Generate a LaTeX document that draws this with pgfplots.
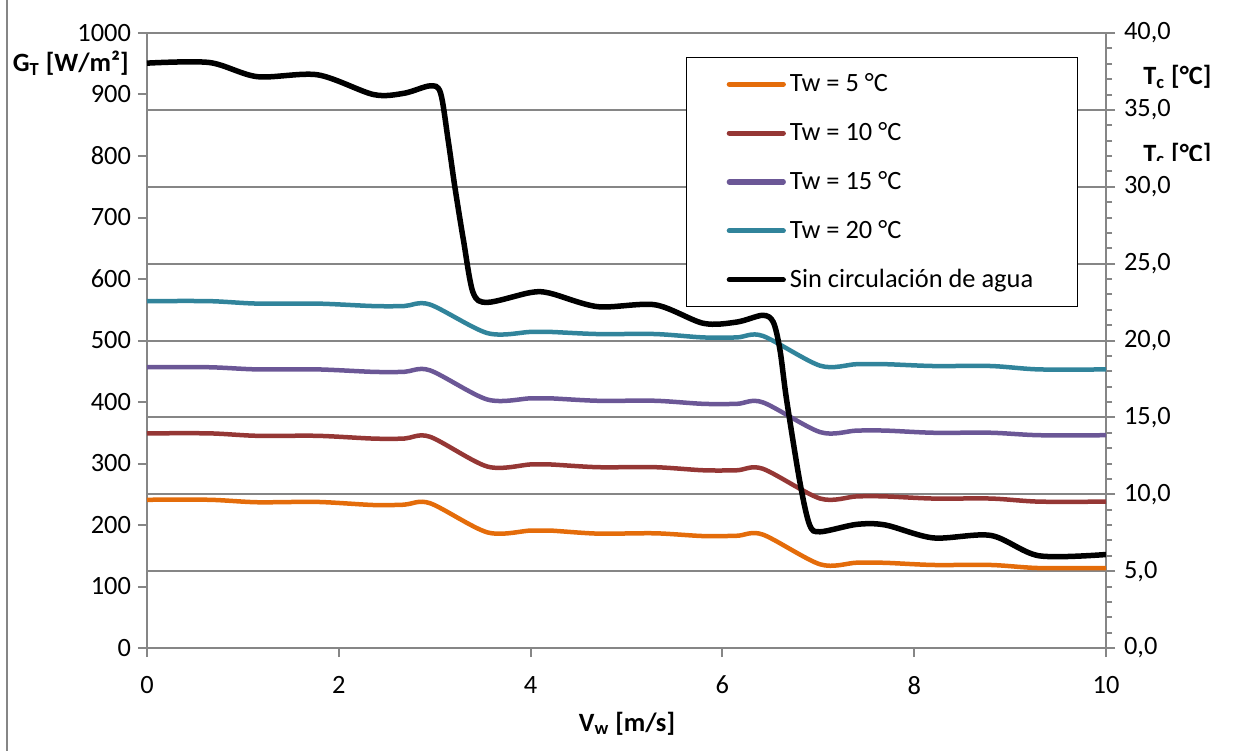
\documentclass[border=0pt]{standalone}
\usepackage{fontspec}
\setmainfont{Carlito}
\usepackage{pgfplots}
\pgfplotsset{compat=1.18}

\definecolor{cOrange}{HTML}{E46C0A}
\definecolor{cRed}{HTML}{953735}
\definecolor{cPurple}{HTML}{6B5796}
\definecolor{cTeal}{HTML}{31849B}
\definecolor{axgray}{HTML}{868686}

\newcommand{\fs}{\fontsize{13.2}{15.5}\selectfont}

\begin{document}
\begin{tikzpicture}
\begin{scope}[x=0.5pt,y=-0.5pt,shift={(-73.5pt,324pt)}]
  \path[use as bounding box] (0,0) rectangle (1233,751);
  \draw[axgray, line width=0.75pt] (7,0) -- (7,751);
\end{scope}

% right axis (grid + temperature scale)
\begin{axis}[
  at={(0,0)}, anchor=south west,
  scale only axis, width=479.5pt, height=307.5pt,
  xmin=0, xmax=10, ymin=0, ymax=40,
  hide x axis,
  axis y line*=right,
  y axis line style={draw=axgray, line width=1pt, -},
  ytick={0,5,...,40},
  yticklabels={{0,0},{5,0},{10,0},{15,0},{20,0},{25,0},{30,0},{35,0},{40,0}},
  minor ytick={1,2,3,4,6,7,8,9,11,12,13,14,16,17,18,19,21,22,23,24,26,27,28,29,31,32,33,34,36,37,38,39},
  ymajorgrids,
  grid style={draw=axgray, line width=1pt},
  tick align=outside,
  major tick length=4.5pt, minor tick length=3pt,
  ytick style={draw=axgray, line width=1pt},
  yticklabel style={font=\fs, text=black, xshift=1pt},
]
\end{axis}

% left axis with data
\begin{axis}[
  at={(0,0)}, anchor=south west,
  scale only axis, width=479.5pt, height=307.5pt,
  xmin=0, xmax=10, ymin=0, ymax=1000,
  axis x line*=bottom, axis y line*=left,
  axis line style={draw=axgray, line width=1pt, -},
  xtick={0,2,4,6,8,10}, ytick={0,100,...,1000},
  tick align=outside,
  major tick length=4.5pt,
  tick style={draw=axgray, line width=1pt},
  ticklabel style={font=\fs, text=black},
  xticklabel style={yshift=-6pt},
  /pgf/number format/assume math mode=true,
  /pgf/number format/1000 sep={},
  legend cell align=left,
  legend style={at={(0.562,0.961)}, anchor=north west, draw=black,
    line width=0.75pt, inner xsep=20pt, inner ysep=6pt, row sep=9.9pt, font=\fs},
  legend image code/.code={\draw[#1, line cap=round, line width=2.6pt] (0pt,0pt) -- (27pt,0pt);},
]
\addplot[cOrange, line width=2.25pt, smooth] coordinates {
(0,241) (0.65,241) (1.15,237) (1.78,237.5) (2.36,232.5) (2.68,233) (2.95,235.5)
(3.55,188) (4.0,191) (4.2,191) (4.7,186) (5.3,186.5) (5.8,182) (6.15,182.5) (6.42,184.5)
(7.02,136) (7.4,138.7) (7.7,138.5) (8.2,135) (8.8,135) (9.3,130) (10,130)};
\addlegendentry{Tw = 5 °C}
\addplot[cRed, line width=2.25pt, smooth] coordinates {
(0,349) (0.65,349) (1.15,345) (1.78,345) (2.36,340.5) (2.68,340.5) (2.95,343.5)
(3.55,295) (4.0,298.5) (4.2,298.5) (4.7,294) (5.3,294) (5.8,289) (6.15,289) (6.42,291.5)
(7.02,243) (7.4,246.5) (7.7,246.5) (8.2,243) (8.8,243) (9.3,238) (10,238)};
\addlegendentry{Tw = 10 °C}
\addplot[cPurple, line width=2.25pt, smooth] coordinates {
(0,456.5) (0.65,456.5) (1.15,453) (1.78,453) (2.36,449) (2.68,449) (2.95,451.5)
(3.55,404) (4.0,406) (4.2,406) (4.7,402) (5.3,402) (5.8,397) (6.15,397) (6.42,399.5)
(7.02,351) (7.4,353.5) (7.7,353.5) (8.2,350) (8.8,350) (9.3,346) (10,346)};
\addlegendentry{Tw = 15 °C}
\addplot[cTeal, line width=2.25pt, smooth] coordinates {
(0,564) (0.65,564) (1.15,560) (1.78,560) (2.36,556) (2.68,556) (2.95,558.5)
(3.55,512) (4.0,514) (4.2,514) (4.7,510.5) (5.3,510.5) (5.8,505) (6.15,505) (6.42,507.5)
(7.02,459) (7.4,461.5) (7.7,461.5) (8.2,458.5) (8.8,458.5) (9.3,453) (10,453)};
\addlegendentry{Tw = 20 °C}
\addplot[black, line width=2.75pt, smooth] coordinates {
(0,951) (0.65,952) (1.15,929) (1.78,932) (2.36,900) (2.68,902) (2.95,914)
(3.06,903) (3.14,826) (3.21,750) (3.30,663) (3.40,578) (3.55,562)
(4.0,578) (4.2,577) (4.7,555) (5.3,558) (5.8,528) (6.15,530) (6.42,541)
(6.53,530) (6.60,485) (6.67,403) (6.81,268) (6.91,200) (7.02,189)
(7.4,201) (7.7,200) (8.2,179) (8.8,183) (9.3,150) (10,152)};
\addlegendentry{Sin circulación de agua}
\end{axis}

\begin{scope}[x=0.5pt,y=-0.5pt,shift={(-73.5pt,324pt)}]
  \node[anchor=base east, font=\fs\bfseries, inner sep=0pt] at (129,72) {G\textsubscript{T} [W/m²]};
  \node[anchor=base west, font=\fs\bfseries, inner sep=0pt] at (1143,85) {T\textsubscript{c} [°C]};
  \begin{scope}
    \clip (1120,130) rectangle (1233,161);
    \node[anchor=base west, font=\fs\bfseries, inner sep=0pt] at (1143,162) {T\textsubscript{c} [°C]};
  \end{scope}
  \node[anchor=base, font=\fs\bfseries, inner sep=0pt] at (627,731) {V\textsubscript{w} [m/s]};
\end{scope}
\end{tikzpicture}
\end{document}
